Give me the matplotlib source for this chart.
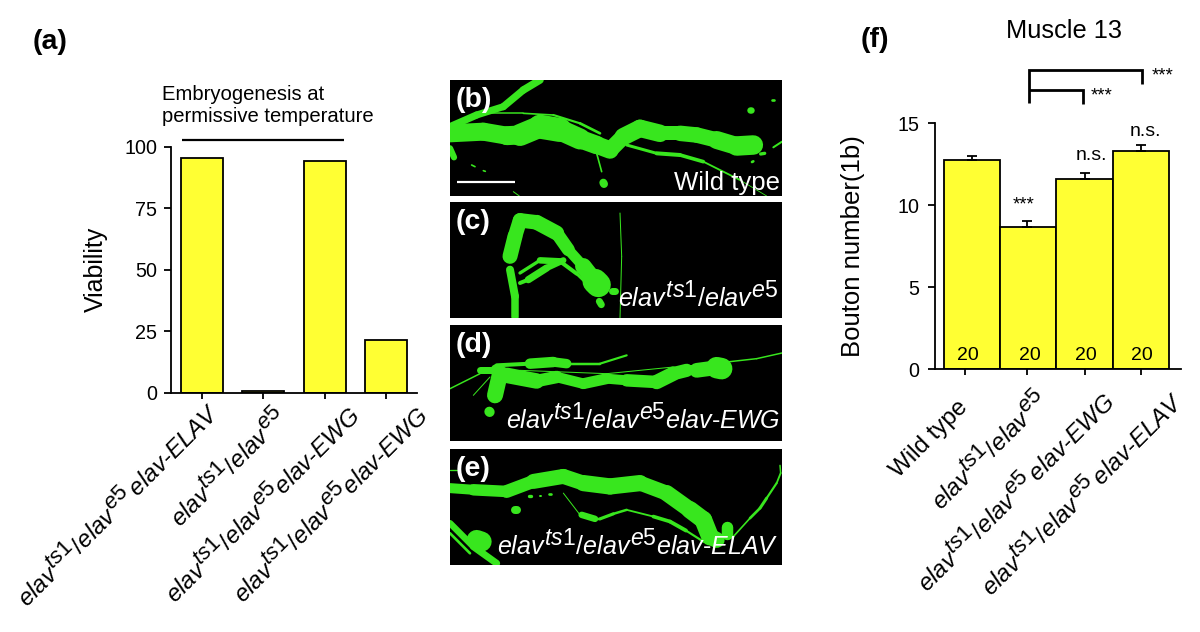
import matplotlib
matplotlib.use("Agg")
import matplotlib.pyplot as plt
import matplotlib._mathtext as _mt
from matplotlib.collections import LineCollection
from matplotlib.transforms import ScaledTranslation

_mt.SHRINK_FACTOR = 0.92

plt.rcParams['font.family'] = ['Liberation Sans', 'DejaVu Sans']
plt.rcParams['mathtext.fontset'] = 'custom'
plt.rcParams['mathtext.rm'] = 'Liberation Sans'
plt.rcParams['mathtext.it'] = 'Liberation Sans:italic'
plt.rcParams['mathtext.bf'] = 'Liberation Sans:bold'

W, H = 1200, 632
YELLOW = '#FFFF33'
GREEN = '#38E61E'

ELAV = r'$\mathit{elav}^{\mathit{ts1}}\mathit{/elav}^{\mathit{e5}}$'
viability_labels = [ELAV + r'$\,\mathit{elav}$' + r'$\mathit{\text{-}ELAV}$',
                    ELAV,
                    ELAV + r'$\mathit{elav}$' + r'$\mathit{\text{-}EWG}$',
                    ELAV + r'$\mathit{elav}$' + r'$\mathit{\text{-}EWG}$']
viability_values = [95.5, 1, 94, 21.5]
viability_ticks = [0, 25, 50, 75, 100]

bouton_labels = ['Wild type', ELAV,
                 ELAV + r'$\,\mathit{elav}$' + r'$\mathit{\text{-}EWG}$',
                 ELAV + r'$\,\mathit{elav}$' + r'$\mathit{\text{-}ELAV}$']
bouton_values = [12.76, 8.7, 11.58, 13.3]
bouton_errors = [0.27, 0.32, 0.36, 0.36]
bouton_n = [20, 20, 20, 20]
bouton_n_pos = [-0.07, 1.03, 2.03, 3.02]
bouton_ticks = [0, 5, 10, 15]
bouton_tick_pos = [-0.125, 0.97, 2.0, 3.0]
bouton_err_pos = [0, 0.97, 2.0, 3.0]

# Micrograph traces: (x, y, width) in a 3x panel pixel frame
b_traces = [
    [(30,190,38),(130,185,34),(200,197,38),(240,195,38),(300,170,50),(360,180,46),(420,207,38),(470,225,36),(510,240,34),(550,200,30),(600,175,40),(660,190,30),(720,190,26),(770,195,36),(830,210,26),(890,228,46),(940,225,32)],
    [(30,170,15),(110,135,14),(190,110,14),(250,60,15),(300,30,15)],
    [(130,130,4),(250,130,5),(340,135,5),(420,160,8),(480,190,8)],
    [(560,225,8),(650,250,10),(720,255,14),(790,275,8),(900,330,3),(980,378,2)],
    [(470,250,6),(485,305,4)], [(30,235,20),(42,262,5)], [(95,285,5),(105,290,5)], [(130,302,5),(136,304,5)],
    [(930,120,14),(932,120,12)], [(995,90,8),(1002,90,8)], [(1000,232,6),(1026,215,6)], [(962,252,10),(974,250,10)],
    [(936,276,8),(940,274,8)], [(490,338,16),(492,342,16)], [(220,365,3),(238,378,3)],
]
c_traces = [
    [(210,560,30),(225,500,30),(240,452,28),(290,458,30),(350,490,30),(385,540,22),(430,590,20),(465,635,46),(475,645,54)],
    [(210,600,12),(225,680,20),(225,742,10)],
    [(240,610,8),(300,572,12),(360,575,14),(410,612,10),(460,660,8)],
    [(240,640,10),(265,630,14),(320,595,15),(370,572,10)],
    [(478,695,14),(484,705,14)], [(515,665,14),(525,665,14)],
    [(540,430,3),(545,560,3),(540,745,3)],
]
d_traces = [
    [(120,150,8),(170,150,20),(200,165,30),(290,182,32),(350,170,18),(430,190,24),(500,175,20),(560,180,20),(650,185,30),(700,160,28),(740,150,25),(770,150,15),(830,142,44),(845,145,42)],
    [(180,160,26),(165,225,38)],
    [(170,135,10),(270,130,14),(340,125,28),(380,130,10),(480,130,5),(560,105,8)],
    [(30,205,4),(120,160,5)], [(100,225,3),(150,170,3)],
    [(860,125,4),(950,115,5),(1026,98,4)],
    [(148,274,20),(149,275,20)], [(240,150,3),(500,160,3),(700,140,3)],
]
e_traces = [
    [(30,505,16),(100,510,24),(200,515,22),(280,485,30),(370,470,30),(430,490,30),(510,500,35),(600,490,30),(680,520,30),(750,570,35),(790,600,35),(810,650,36),(830,660,28)],
    [(368,520,20),(370,520,20)], [(268,530,10),(272,530,10)], [(300,530,6),(304,530,6)], [(328,522,8),(332,522,8)], [(226,570,16),(230,570,16)],
    [(370,520,3),(420,585,3)], [(425,585,18),(465,597,8),(480,597,7),(520,582,12),(560,570,3),(640,590,8),(690,605,14),(738,632,9),(790,665,4)],
    [(860,622,22),(860,642,24)],
    [(880,650,4),(930,595,6),(960,565,10),(980,535,8),(1010,490,5),(1022,460,6),(1020,437,3)],
    [(30,610,12),(100,680,14),(170,730,14)], [(30,640,8),(90,700,8)], [(110,660,40),(125,665,40)], [(30,452,4),(50,452,4)],
]


def px_axes(x0, y0, x1, y1):
    return fig.add_axes([x0 / W, 1 - y1 / H, (x1 - x0) / W, (y1 - y0) / H])


def style_axes(ax):
    for s in ('top', 'right'):
        ax.spines[s].set_visible(False)
    for s in ('left', 'bottom'):
        ax.spines[s].set_linewidth(1.3)
    ax.tick_params(axis='y', length=5, width=1.3, labelsize=14.2, pad=5)
    ax.tick_params(axis='x', length=4.3, width=1.3, pad=0)


def set_rot_labels(ax, labels, ticks, shifts, size):
    ax.set_xticks(ticks)
    ax.set_xticklabels(labels, rotation=45, ha='right', va='center',
                       rotation_mode='anchor', fontsize=size)
    for lab, (dx, dy) in zip(ax.get_xticklabels(), shifts):
        lab.set_transform(lab.get_transform() + ScaledTranslation(dx / 100, -dy / 100, fig.dpi_scale_trans))


def panel(box, xlim, ylim, traces, label, caption, cap_xy):
    ax = px_axes(*box)
    ax.set_facecolor('black')
    ax.set_xlim(*xlim)
    ax.set_ylim(*ylim)
    ax.set_xticks([])
    ax.set_yticks([])
    for s in ax.spines.values():
        s.set_visible(False)
    for tr in traces:
        segs = [[tr[i][:2], tr[i + 1][:2]] for i in range(len(tr) - 1)]
        mean = [(tr[i][2] + tr[i + 1][2]) / 2 for i in range(len(tr) - 1)]
        wid = [m * (0.36 if m > 12 else 0.24) for m in mean]
        ax.add_collection(LineCollection(segs, linewidths=wid, colors=GREEN, capstyle='round'))
    ax.text(0.018, 0.83, label, transform=ax.transAxes, color='white', fontsize=20.5,
            fontweight='bold', va='center', ha='left')
    ax.text(cap_xy[0], cap_xy[1], caption, transform=ax.transAxes, color='white', fontsize=cap_xy[2],
            ha='right', va='baseline')
    return ax


fig = plt.figure(figsize=(W / 100, H / 100), dpi=100, facecolor='white')

# Panel (a)
ax_a = px_axes(171, 146.6, 417, 393)
ax_a.bar(range(4), viability_values, width=0.69, color=YELLOW, edgecolor='black', linewidth=1.3)
ax_a.set_xlim(-0.5, 3.5)
ax_a.set_ylim(0, 100)
ax_a.set_yticks(viability_ticks)
style_axes(ax_a)
ax_a.set_ylabel('Viability', fontsize=18, labelpad=12)
set_rot_labels(ax_a, viability_labels, range(4), [(14, 9), (20, 14), (31, 12), (38, 12)], 17.4)

# Panels (b)-(e)
bb = panel((450, 80, 782, 196), (30, 1026), (378, 30), b_traces, '(b)', 'Wild type', (0.995, 0.05, 18.5))
bb.plot([52, 225], [337, 337], color='white', lw=1.6, solid_capstyle='butt')
panel((450, 202, 782, 318), (30, 1026), (745, 397), c_traces, '(c)', ELAV, (0.99, 0.09, 18.1))
panel((450, 325, 782, 441), (30, 1026), (362, 14), d_traces, '(d)', ELAV + r'$\mathit{elav}$' + r'$\mathit{\text{-}EWG}$', (0.995, 0.10, 18))
panel((450, 449, 782, 565), (30, 1026), (735, 388), e_traces, '(e)', ELAV + r'$\mathit{elav}$' + r'$\mathit{\text{-}ELAV}$', (0.99, 0.08, 18))

# Panel (f)
ax_f = px_axes(935, 123.3, 1180.7, 369.3)
ax_f.bar(range(4), bouton_values, width=1.0, color=YELLOW, edgecolor='black', linewidth=1.3)
ax_f.errorbar(bouton_err_pos, bouton_values, yerr=[[0] * 4, bouton_errors], fmt='none', ecolor='black',
              elinewidth=1.3, capsize=3.5, capthick=1.3)
ax_f.set_xlim(-0.657, 3.707)
ax_f.set_ylim(0, 15)
ax_f.set_yticks(bouton_ticks)
style_axes(ax_f)
ax_f.tick_params(axis='y', pad=6.5)
ax_f.set_ylabel('Bouton number(1b)', fontsize=18.5, labelpad=23)
set_rot_labels(ax_f, bouton_labels, bouton_tick_pos, [(-1, 29), (17, 21), (26, 22), (38, 21)], 17.4)
ax_f.get_xticklabels()[0].set_fontsize(17.4)
for p, n in zip(bouton_n_pos, bouton_n):
    ax_f.text(p, 0.85, str(n), ha='center', va='center', fontsize=14)

# Overlay annotations in pixel frame
ov = fig.add_axes([0, 0, 1, 1], facecolor='none')
ov.set_xlim(0, W)
ov.set_ylim(H, 0)
ov.axis('off')
ov.text(33, 42, '(a)', fontsize=20.5, fontweight='bold', va='center', ha='left')
ov.text(861, 40, '(f)', fontsize=20.5, fontweight='bold', va='center', ha='left')
ov.text(162, 95, 'Embryogenesis at', fontsize=14.6, va='center', ha='left')
ov.text(162, 116, 'permissive temperature', fontsize=14.6, va='center', ha='left')
ov.plot([182, 344], [139.5, 139.5], color='black', lw=1.6, solid_capstyle='butt')
ov.text(1064, 31, 'Muscle 13', fontsize=18.3, va='center', ha='center')
ov.plot([1029.3, 1029.3, 1141.7, 1141.7], [102.7, 70, 70, 83.5], color='black', lw=2, solid_joinstyle='miter', solid_capstyle='butt')
ov.plot([1029.3, 1083, 1083], [89.5, 89.5, 104], color='black', lw=2, solid_joinstyle='miter', solid_capstyle='butt')
for x, y, s in [(1163, 76, '***'), (1102, 96, '***'), (1024, 205, '***')]:
    ov.text(x, y, s, fontsize=13.4, ha='center', va='center')
ov.text(1091, 156, 'n.s.', fontsize=14, ha='center', va='center')
ov.text(1145.7, 131, 'n.s.', fontsize=14, ha='center', va='center')

fig.savefig('out.png', dpi=100)
